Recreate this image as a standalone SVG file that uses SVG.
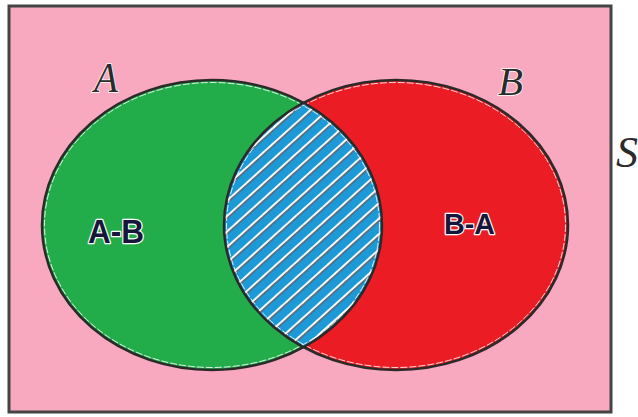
<svg xmlns="http://www.w3.org/2000/svg" width="638" height="417" viewBox="0 0 638 417">
  <style>
    .outline { fill: none; stroke: #2a2a2a; stroke-width: 2.5; }
    .halo { fill: none; stroke: #ffffff; stroke-width: 1; stroke-dasharray: 7 2; opacity: 0.85; }
    .setname { font-family: "Liberation Serif", "DejaVu Serif", serif; font-style: italic; fill: #2b2b2b; stroke: #ffffff; stroke-width: 1.5; paint-order: stroke; }
    .region { font-family: "Liberation Sans", Arial, sans-serif; font-weight: bold; fill: #15163a; stroke: #ffffff; stroke-width: 2.5; paint-order: stroke; stroke-linejoin: round; }
  </style>
  <defs>
    <clipPath id="clipA">
      <ellipse cx="212" cy="225" rx="170" ry="145"/>
    </clipPath>
    <pattern id="hatch" patternUnits="userSpaceOnUse" width="20" height="11.5" patternTransform="rotate(-42)">
      <rect x="0" y="0" width="20" height="11.5" fill="#1c9ad8"/>
      <line x1="0" y1="2" x2="20" y2="2" stroke="#ffffff" stroke-width="2"/>
      <line x1="0" y1="3.8" x2="20" y2="3.8" stroke="#6b5a63" stroke-width="1.3"/>
    </pattern>
  </defs>

  <g id="universe">
    <rect x="9" y="6" width="602" height="406" fill="#f8a8bf" stroke="#444444" stroke-width="3"/>
  </g>

  <g id="setA">
    <ellipse cx="212" cy="225" rx="170" ry="145" fill="#22ad4a"/>
  </g>

  <g id="setB">
    <ellipse cx="396" cy="225" rx="172" ry="145" fill="#ec1c24"/>
  </g>

  <g id="intersection" clip-path="url(#clipA)">
    <ellipse cx="396" cy="225" rx="172" ry="145" fill="url(#hatch)"/>
  </g>

  <g id="outlines">
    <ellipse class="halo" cx="212" cy="225" rx="167.5" ry="142.5"/>
    <ellipse class="halo" cx="396" cy="225" rx="169.5" ry="142.5"/>
    <ellipse class="outline" cx="212" cy="225" rx="170" ry="145"/>
    <ellipse class="outline" cx="396" cy="225" rx="172" ry="145"/>
  </g>

  <g id="labels">
    <text class="setname" x="94" y="92" font-size="42" textLength="24" lengthAdjust="spacingAndGlyphs">A</text>
    <text class="setname" x="498" y="95" font-size="40" textLength="25" lengthAdjust="spacingAndGlyphs">B</text>
    <text class="setname" x="616" y="167" font-size="44" textLength="22" lengthAdjust="spacingAndGlyphs">S</text>
    <text class="region" x="88" y="243" font-size="34" textLength="56" lengthAdjust="spacingAndGlyphs">A-B</text>
    <text class="region" x="444" y="234" font-size="30" textLength="51" lengthAdjust="spacingAndGlyphs">B-A</text>
  </g>
</svg>
